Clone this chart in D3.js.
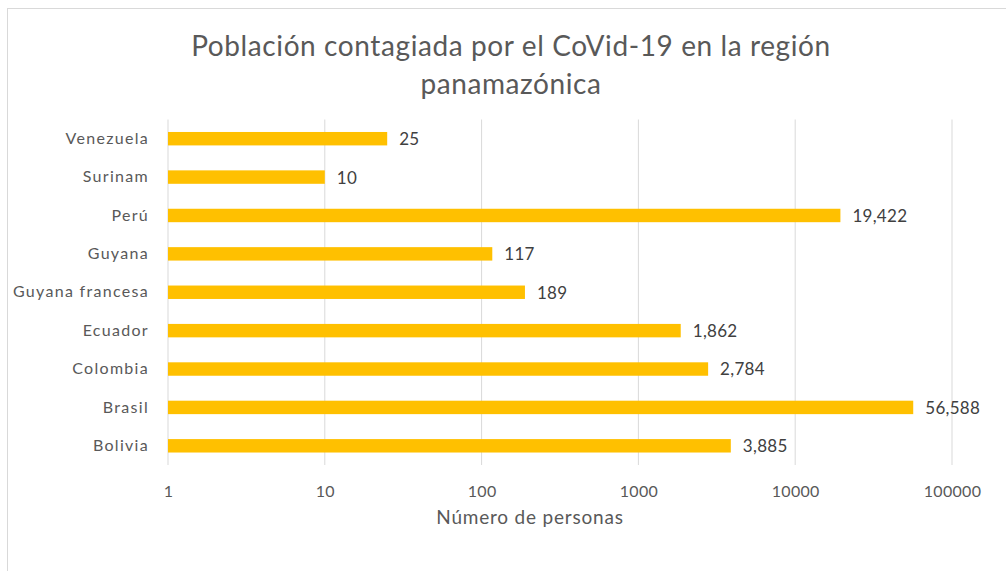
<!DOCTYPE html>
<html lang="es">
<head>
<meta charset="UTF-8">
<title>Población contagiada</title>
<style>
  body { margin: 0; background: #fff; }
  svg { display: block; font-family: Lato, "Open Sans", sans-serif; }
</style>
</head>
<body>
<script src="https://cdn.jsdelivr.net/npm/d3@7"></script>
<script>
const paises = ["Venezuela", "Surinam", "Perú", "Guyana", "Guyana francesa", "Ecuador", "Colombia", "Brasil", "Bolivia"];
const contagiados = [25, 10, 19422, 117, 189, 1862, 2784, 56588, 3885];
const ticks_x = [1, 10, 100, 1000, 10000, 100000];

const W = 1006, H = 571;
const svg = d3.select("body").append("svg")
  .attr("width", W)
  .attr("height", H);

// marco del gráfico
svg.append("rect")
  .attr("x", 7.5).attr("y", 8.5)
  .attr("width", 1010).attr("height", 580)
  .attr("fill", "none")
  .attr("stroke", "#d9d9d9");

// título
svg.append("text")
  .attr("x", 511).attr("y", 56)
  .attr("text-anchor", "middle")
  .attr("font-size", 28)
  .attr("letter-spacing", 0.6)
  .attr("fill", "#595959")
  .selectAll("tspan")
  .data(["Población contagiada por el CoVid-19 en la región", "panamazónica"])
  .join("tspan")
    .attr("x", 511)
    .attr("dy", (d, i) => i === 0 ? 0 : 38)
    .text(d => d);

const x = d3.scaleLog()
  .domain([1, 100000])
  .range([168, 952]);

const y = d3.scaleBand()
  .domain(paises)
  .range([119.5, 465])
  .paddingInner(0.65)
  .paddingOuter(0.325);

// líneas de cuadrícula
svg.append("g")
  .selectAll("line")
  .data(ticks_x)
  .join("line")
    .attr("x1", d => x(d)).attr("x2", d => x(d))
    .attr("y1", 119.5).attr("y2", 465)
    .attr("stroke", "#d9d9d9")
    .attr("stroke-width", 1);

// eje x
const ejeX = svg.append("g")
  .attr("transform", "translate(0,465)")
  .call(d3.axisBottom(x).tickValues(ticks_x).tickFormat(d3.format("d")).tickSize(0).tickPadding(21));
ejeX.select(".domain").remove();
ejeX.selectAll("text")
  .attr("font-family", "Lato, 'Open Sans', sans-serif")
  .attr("font-size", 16)
  .attr("letter-spacing", 0.3)
  .attr("fill", "#595959");

// eje y
const ejeY = svg.append("g")
  .attr("transform", "translate(168,0)")
  .call(d3.axisLeft(y).tickSize(0).tickPadding(19));
ejeY.select(".domain").remove();
ejeY.selectAll("text")
  .attr("font-family", "Lato, 'Open Sans', sans-serif")
  .attr("font-size", 16)
  .attr("letter-spacing", 1.3)
  .attr("fill", "#595959");

const datos = paises.map((p, i) => ({ pais: p, valor: contagiados[i] }));

// barras
svg.append("g")
  .selectAll("rect")
  .data(datos)
  .join("rect")
    .attr("x", x(1))
    .attr("y", d => y(d.pais))
    .attr("width", d => x(d.valor) - x(1))
    .attr("height", y.bandwidth())
    .attr("fill", "#ffc000");

// etiquetas de datos
svg.append("g")
  .selectAll("text")
  .data(datos)
  .join("text")
    .attr("x", d => x(d.valor) + 12)
    .attr("y", d => y(d.pais) + y.bandwidth() / 2)
    .attr("dy", "0.38em")
    .attr("font-size", 17)
    .attr("letter-spacing", 0.3)
    .attr("fill", "#404040")
    .text(d => d3.format(",")(d.valor));

// título del eje x
svg.append("text")
  .attr("x", 530).attr("y", 524)
  .attr("text-anchor", "middle")
  .attr("font-size", 19)
  .attr("letter-spacing", 0.8)
  .attr("fill", "#595959")
  .text("Número de personas");
</script>
</body>
</html>
